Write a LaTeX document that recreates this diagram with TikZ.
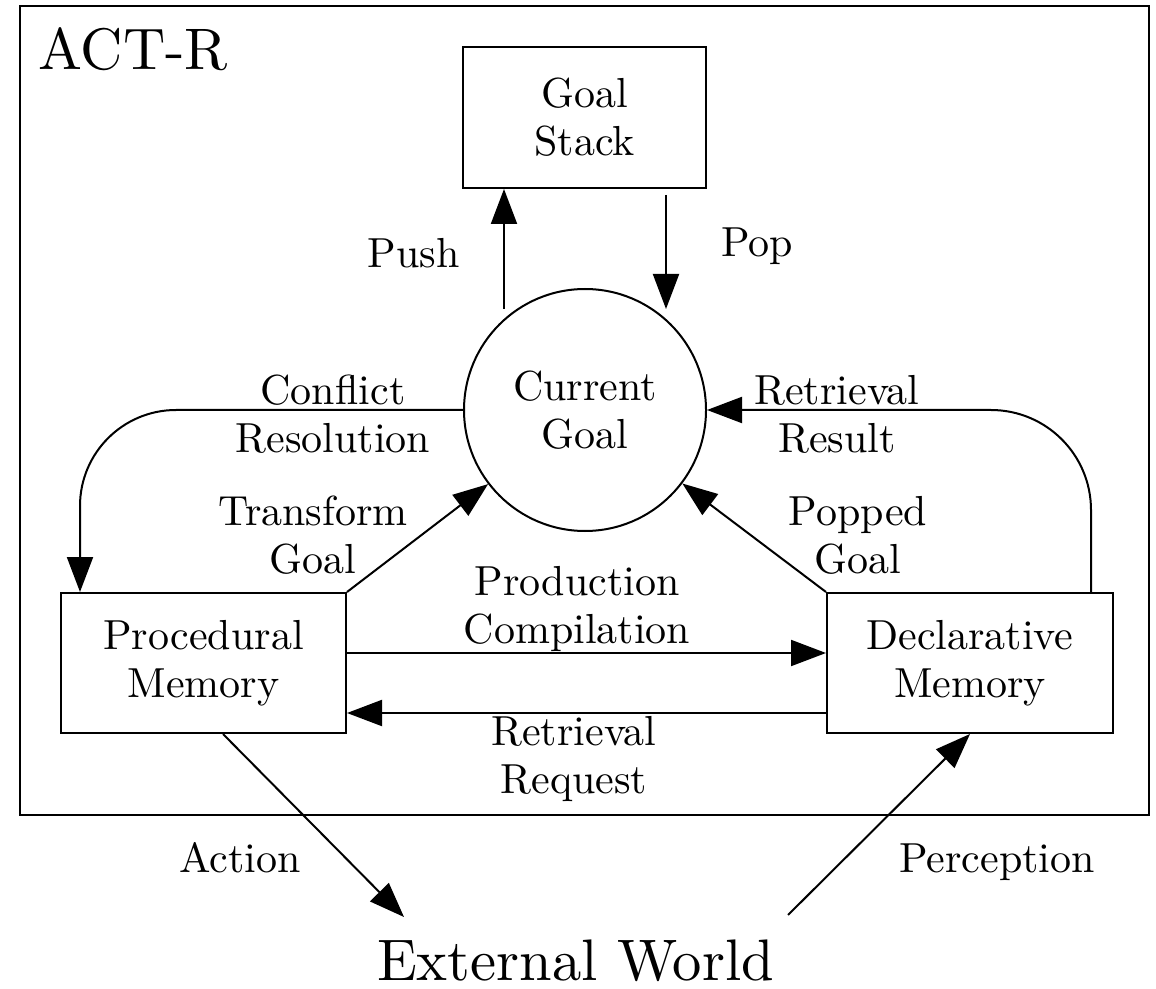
\documentclass[tikz,border=0pt]{standalone}
\usepackage{fontspec}
\setmainfont{lmroman10-regular}[Extension=.otf]
\usetikzlibrary{arrows.meta,calc}
\newcommand\lblfont{\fontsize{21}{24}\selectfont}
\newcommand\bigfont{\fontsize{29.3}{34}\selectfont}
\begin{document}
\begin{tikzpicture}[x=0.5pt,y=-0.5pt,
  lw/.style={line width=1pt},
  arr/.style={lw,-{Triangle[length=17.5pt,width=13pt]}},
  box/.style={draw,lw,rectangle,inner sep=0pt,align=center,font=\lblfont},
  lab/.style={inner sep=0pt,anchor=base,align=center,font=\lblfont},
  big/.style={inner sep=0pt,font=\bigfont}]
\useasboundingbox (0,0) rectangle (1156,989);
\draw[line width=1.4pt] (20,6) rectangle (1149,815);
\node[big,anchor=base west] (actr) at (38,70) {ACT-R};
\node[box,minimum width=121.5pt,minimum height=70.5pt] (GS) at (584.5,117.5) {Goal\\Stack};
\node[draw,lw,circle,minimum size=121pt,inner sep=0pt,align=center,font=\lblfont] (CG) at (585,410) {Current\\Goal};
\node[box,minimum width=142.5pt,minimum height=70pt] (P) at (203.5,663) {Procedural\\Memory};
\node[box,minimum width=143pt,minimum height=70pt] (D) at (970,663) {Declarative\\Memory};
\node[big,anchor=base] (EW) at (575.5,980) {External World};
% connectors
\coordinate (pushS) at (504,309);
\coordinate (popE) at (666,309);
\draw[arr] (pushS) -- (pushS |- GS.south);
\draw[arr] ($(popE |- GS.south)+(0,6)$) -- (popE);
\draw[arr,rounded corners=48pt] (CG.west) -| ($(P.north west)+(20,0)$);
\draw[arr,rounded corners=50pt] ($(D.north east)+(-23,0)$) |- (CG.east);
\draw[arr] (P.north east) -- (CG);
\draw[arr] (D.north west) -- (CG);
\draw[arr] ($(P.east)+(0,-10)$) -- ($(D.west)+(0,-10)$);
\draw[arr] ($(D.west)+(0,50)$) -- ($(P.east)+(0,50)$);
\coordinate (actT) at (404,917);
\coordinate (perS) at (788,915);
\draw[arr] ($(P.south)+(19.5,0)$) -- (actT);
\draw[arr] (perS) -- (D.south);
% labels (base anchor = baseline of last line)
\node[lab] (lpush) at (413.5,268) {Push};
\node[lab] (lpop) at (757,257) {Pop};
\node[lab] (lconf) at (333,452) {Conflict\\Resolution};
\node[lab] (lres) at (837,452) {Retrieval\\Result};
\node[lab] (ltrans) at (313,573) {Transform\\Goal};
\node[lab] (lpopped) at (858,573) {Popped\\Goal};
\node[lab] (lprod) at (577,643) {Production\\Compilation};
\node[lab] (lreq) at (574,793) {Retrieval\\Request};
\node[lab] (lact) at (240,872) {Action};
\node[lab] (lperc) at (997,872) {Perception};
\end{tikzpicture}
\end{document}
